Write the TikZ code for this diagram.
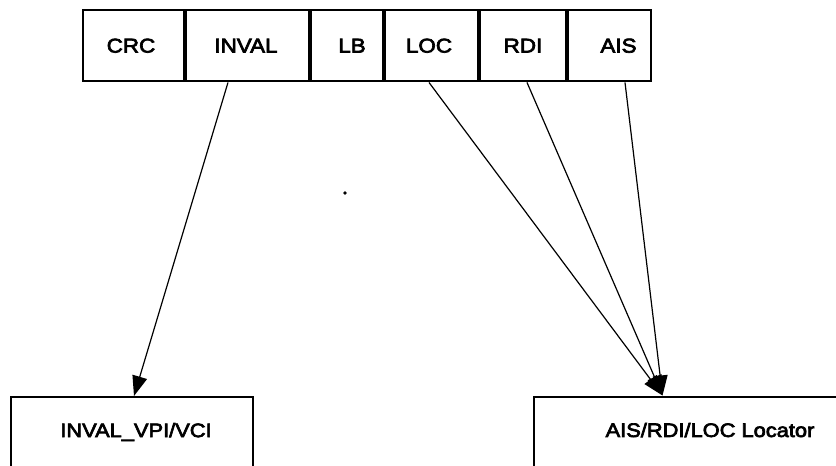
\documentclass[tikz,border=0pt]{standalone}
\usepackage{fontspec}
\setmainfont{Liberation Sans}[FakeStretch=1.12,FakeBold=3.5]
\usetikzlibrary{arrows.meta}
\begin{document}
\begin{tikzpicture}[x=1pt,y=-1pt,
  cell/.style={draw,line width=2pt,inner sep=0pt,minimum height=71.5pt,
    anchor=west,font=\fontsize{20}{23}\selectfont},
  panel/.style={draw,line width=2pt,inner sep=0pt,minimum height=120pt,anchor=north west},
  caption/.style={inner sep=0pt,font=\fontsize{19.5}{23}\selectfont},
  link/.style={line width=1.2pt,-{Triangle[length=20pt,width=15pt]}}]
\useasboundingbox (0,0) rectangle (836,466);
\begin{scope}
\clip (0,0) rectangle (836,466);
% field row of the OAM cell
\node[cell,minimum width=101pt] (crc)   at (82,45.7)       {CRC\hspace*{5pt}};
\node[cell,minimum width=123pt] (inval) at (crc.east)     {INVAL\hspace*{3pt}};
\node[cell,minimum width=72pt]  (lb)    at (inval.east)   {\hspace*{10pt}LB};
\node[cell,minimum width=93pt]  (loc)   at (lb.east)      {LOC\hspace*{5pt}};
\node[cell,minimum width=86pt]  (rdi)   at (loc.east)     {RDI};
\node[cell,minimum width=83pt]  (ais)   at (rdi.east)     {\hspace*{18pt}AIS};
% receiving blocks (cut off at the lower edge)
\node[panel,minimum width=242pt] (invbox) at (10,396) {};
\node[caption] (invtxt) at (136,432) {INVAL\_VPI/VCI};
\node[panel,minimum width=367pt] (locbox) at (533,395.5) {};
\node[caption] (loctxt) at (710,430) {AIS/RDI/LOC Locator};
% connectors
\draw[link] ([xshift=-19.5pt]inval.south) -- ([xshift=2pt]invbox.north);
\draw[link] ([xshift=-2.5pt]loc.south) -- ([xshift=-55pt]locbox.north);
\draw[link] ([xshift=4pt]rdi.south) -- ([xshift=-55pt]locbox.north);
\draw[link] ([xshift=15.5pt]ais.south) -- ([xshift=-55pt]locbox.north);
% speck
\fill (345,193) circle (1.8pt);
\end{scope}
\end{tikzpicture}
\end{document}
